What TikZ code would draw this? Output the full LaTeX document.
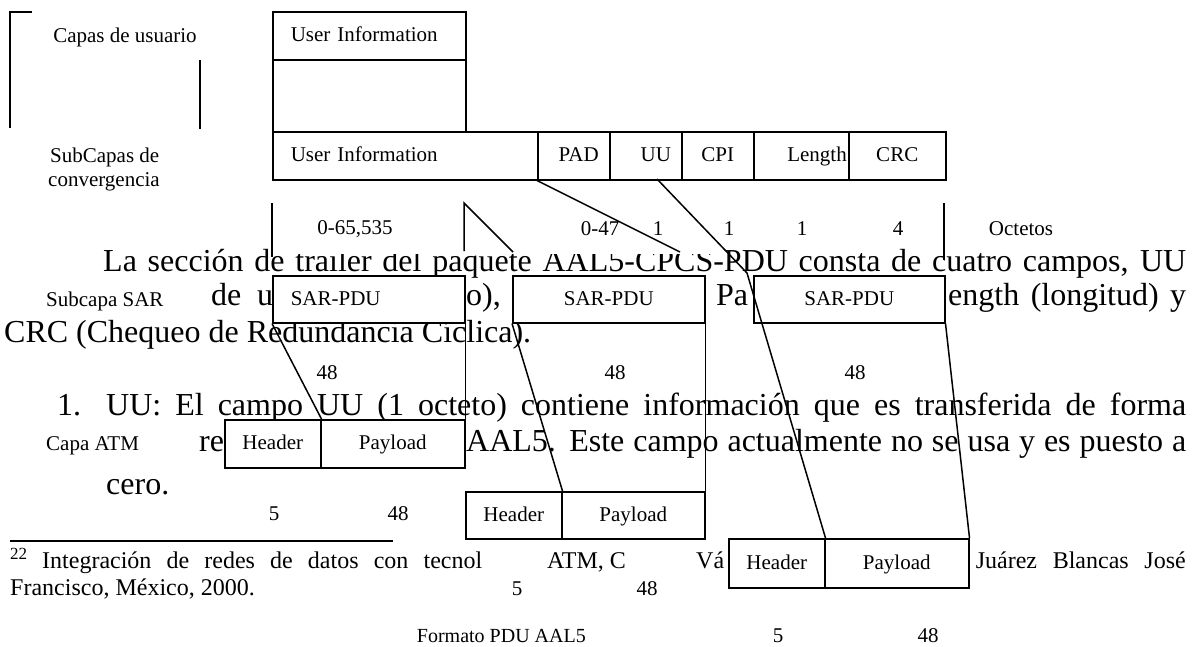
\documentclass[tikz,border=0pt]{standalone}
\usepackage{fontspec}
\setmainfont{Liberation Serif}
\newcommand\bodysize{\fontsize{32}{36}\selectfont}
\newcommand\labelsize{\fontsize{21}{24}\selectfont}
\newcommand\notesize{\fontsize{24}{28}\selectfont}
\tikzset{
  cellbox/.style={draw, fill=white, line width=1.5pt, inner sep=0pt, anchor=north west,
    font=\labelsize, text height=14pt, text depth=2pt},
  lbl/.style={font=\labelsize, inner sep=0pt, anchor=base},
  body/.style={font=\bodysize, inner sep=0pt, anchor=base west},
  note/.style={font=\notesize, inner sep=0pt, anchor=base west},
  link/.style={line width=1.5pt},
}
\begin{document}
\begin{tikzpicture}[x=1pt,y=-1pt]
  \useasboundingbox (0,0) rectangle (1197,646);
  % running text of the page
  \node[body] (parA) at (103,271) {\makebox[1083pt][s]{La sección de trailer del paquete AAL5-CPCS-PDU consta de cuatro campos, UU}};
  \node[body] (parB1) at (211,305) {\makebox[62pt][s]{de u}};
  \node[body] (parB2) at (466,305) {o),};
  \node[body] (parB3) at (716,305) {Pa};
  \node[body] (parB4) at (948,305) {\makebox[238pt][s]{ength (longitud) y}};
  \node[body] (parC) at (4,342) {CRC (Chequeo de Redundancia Cíclica).};
  \node[body] (itemno) at (57,415) {1.};
  \node[body] (itemA) at (106,415) {\makebox[1080pt][s]{UU: El campo UU (1 octeto) contiene información que es transferida de forma}};
  \node[body] (itemB1) at (199,451) {re};
  \node[body] (itemB2) at (466,451) {\makebox[720pt][s]{AAL5. Este campo actualmente no se usa y es puesto a}};
  \node[body] (itemC) at (106,494) {cero.};
  \draw[line width=1.2pt] (10,541) -- (393,541);
  \node[note, font=\fontsize{17}{20}\selectfont] (fnmark) at (10,559) {22};
  \node[note] (fnA1) at (42,568) {\makebox[440pt][s]{Integración de redes de datos con tecnol}};
  \node[note] (fnA2) at (547,568) {ATM, C};
  \node[note] (fnA3) at (696,568) {Vá};
  \node[note, anchor=base east] (fnA4) at (1186,568) {\makebox[210pt][s]{Juárez Blancas José}};
  \node[note] (fnB) at (10,595) {Francisco, México, 2000.};
  \fill[white] (295,236) rectangle (718,254);
  % layer names
  \draw[link] (32,12) -- (10,12) -- (10,128);
  \draw[link] (200,60) -- (200,129);
  \node[lbl] (users) at (125,42) {Capas de usuario};
  \node[lbl, anchor=base west] (conv1) at (50,162) {SubCapas de};
  \node[lbl, anchor=base west] (conv2) at (48,186) {convergencia};
  \node[lbl, anchor=base west] (sarname) at (46,306) {Subcapa SAR};
  \node[lbl, anchor=base west] (atmname) at (46,450) {Capa ATM};
  % user data and CPCS-PDU
  \node[cellbox, minimum width=193, minimum height=48, text width=157, align=left] (ui) at (272,11) {User Information};
  \node[cellbox, minimum width=193, minimum height=72] (uigap) at (272,59) {};
  \node[cellbox, minimum width=265, minimum height=48, text width=229, align=left] (cpcsui) at (272,131) {User Information};
  \node[cellbox, minimum width=72, minimum height=48] (pad) at (537,131) {\hspace*{10pt}PAD};
  \node[cellbox, minimum width=72, minimum height=48] (uu) at (609,131) {\hspace*{20pt}UU};
  \node[cellbox, minimum width=72, minimum height=48] (cpi) at (681,131) {CPI};
  \node[cellbox, minimum width=95, minimum height=48, text width=91, align=right] (len) at (753,131) {Length};
  \node[cellbox, minimum width=97, minimum height=48] (crc) at (848,131) {CRC};
  \node[lbl] (octui) at (355,234) {0-65,535};
  \foreach \x/\t in {600/0-47, 658/1, 729/1, 802/1, 898/4}
    \node[lbl] (oct\x) at (\x,235) {\t};
  \node[lbl] (octunit) at (1021,235) {Octetos};
  \coordinate (uutap) at (657,179);
  \coordinate (padend) at (680,252);
  \coordinate (leftA) at (272,203);
  \coordinate (leftB) at (272,257);
  \coordinate (midA) at (464,203);
  \coordinate (midB) at (464,251);
  \coordinate (midC) at (513,252);
  \coordinate (rightA) at (944,203);
  \coordinate (rightB) at (944,260);
  \coordinate (bend) at (747,273);
  % SAR-PDUs
  \node[cellbox, minimum width=192, minimum height=47, text width=156, align=left] (sar1) at (272,275) {SAR-PDU};
  \node[cellbox, minimum width=192, minimum height=47] (sar2) at (512,275) {SAR-PDU};
  \node[cellbox, minimum width=191, minimum height=47] (sar3) at (753,275) {SAR-PDU};
  \foreach \x in {327,615,855}
    \node[lbl] (sar\x) at (\x,379) {48};
  % ATM cells
  \node[cellbox, minimum width=96, minimum height=48] (hd1) at (224,419) {Header};
  \node[cellbox, minimum width=144, minimum height=48] (pl1) at (320,419) {Payload};
  \node[cellbox, minimum width=96, minimum height=47] (hd2) at (465,491) {Header};
  \node[cellbox, minimum width=143, minimum height=47] (pl2) at (561,491) {Payload};
  \node[cellbox, minimum width=96, minimum height=49] (hd3) at (728,538) {Header};
  \node[cellbox, minimum width=144, minimum height=49] (pl3) at (824,538) {Payload};
  \draw[link] (leftA) -- (leftB);
  \draw[link] (midB) -- (midA) -- (midC);
  \draw[link] (rightA) -- (rightB);
  \draw[link] (pad.south west) -- (padend);
  \draw[link] (uutap) -- (bend) -- (hd3.north east);
  \draw[link] (sar1.south west) -- (hd1.north east);
  \draw[link] (sar1.south east) -- (pl1.north east);
  \draw[link] (sar2.south west) -- (hd2.north east);
  \draw[link] (sar2.south east) -- (pl2.north east);
  \draw[link] (sar3.south east) -- (pl3.north east);
  \node[lbl] (hl1) at (274,520) {5};
  \node[lbl] (pll1) at (398,520) {48};
  \node[lbl] (hl2) at (517,595) {5};
  \node[lbl, fill=white, text height=44pt, minimum width=40pt] (pll2) at (647,595) {48};
  \node[lbl] (hl3) at (778,642) {5};
  \node[lbl] (pll3) at (928,642) {48};
  \node[lbl, anchor=base east, font=\fontsize{20}{24}\selectfont] (caption) at (586,642) {Formato PDU AAL5};
\end{tikzpicture}
\end{document}
